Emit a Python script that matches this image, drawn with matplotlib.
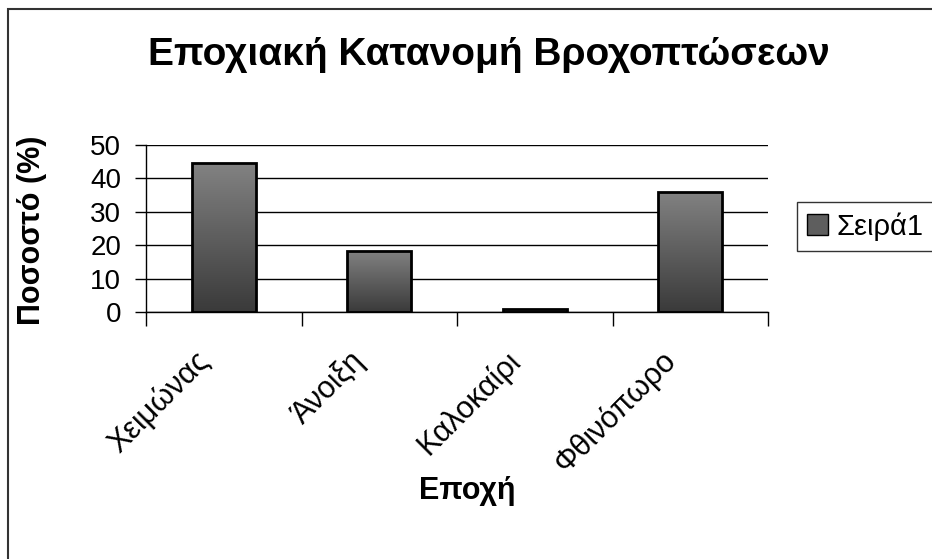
import numpy as np
import matplotlib
matplotlib.use("Agg")
import matplotlib.pyplot as plt
from matplotlib.patches import Rectangle
from matplotlib.transforms import offset_copy

plt.rcParams['font.family'] = ['Liberation Sans', 'DejaVu Sans']

# data
seasons = ['Χειμώνας', 'Άνοιξη', 'Καλοκαίρι', 'Φθινόπωρο']
values = [44.6, 18.4, 1.0, 36.0]
series_name = 'Σειρά1'
title = 'Εποχιακή Κατανομή Βροχοπτώσεων'
xlabel = 'Εποχή'
ylabel = 'Ποσοστό (%)'
yticks = [0, 10, 20, 30, 40, 50]

W, H = 932, 559
fig = plt.figure(figsize=(W / 100, H / 100), dpi=100)
ax = fig.add_axes([146 / W, 1 - 312 / H, (768 - 146) / W, (312 - 145) / H])

x = np.arange(len(seasons))
bars = ax.bar(x, values, width=0.41, facecolor='none', edgecolor='black',
              linewidth=2, zorder=3)

# vertical gradient inside each bar
grad = np.linspace(0, 1, 256).reshape(-1, 1)
cmap = matplotlib.colors.LinearSegmentedColormap.from_list('g', ['#3a3a3a', '#828282'])
for b in bars:
    x0, w, h = b.get_x(), b.get_width(), b.get_height()
    im = ax.imshow(grad, extent=[x0, x0 + w, 0, h], origin='lower', aspect='auto',
                   cmap=cmap, zorder=2, interpolation='bilinear')
    im.set_clip_path(b)

ax.set_xlim(-0.5, len(seasons) - 0.5)
ax.set_ylim(0, 50)
ax.set_yticks(yticks)
ax.tick_params(axis='y', direction='out', length=8, width=1, pad=10, labelsize=20)

# tick marks between categories, labels placed as rotated texts
ax.set_xticks(np.arange(len(seasons) + 1) - 0.5)
ax.set_xticklabels([])
ax.tick_params(axis='x', which='major', direction='out', length=10, width=1)
lab_tr = offset_copy(ax.get_xaxis_transform(), fig=fig, x=-19, y=-44, units='dots')
for xi, name in zip(x, seasons):
    ax.text(xi, 0, name, transform=lab_tr, rotation=45, ha='right', va='center',
            rotation_mode='anchor', fontsize=22)

ax.yaxis.grid(True, color='black', linewidth=1, zorder=0)
ax.set_axisbelow(True)
for s in ['top', 'right']:
    ax.spines[s].set_visible(False)
ax.spines['left'].set_linewidth(1)
ax.spines['bottom'].set_linewidth(1)

fig.text(489 / W, 1 - 65 / H, title, ha='center', va='baseline',
         fontsize=28, fontweight='bold')
fig.text(467 / W, 1 - 499 / H, xlabel, ha='center', va='baseline',
         fontsize=22, fontweight='bold')
fig.text(32 / W, 1 - 230 / H, ylabel, ha='center', va='center', rotation=90,
         fontsize=22, fontweight='bold')

leg = ax.legend([plt.Rectangle((0, 0), 1, 1, facecolor='#5e5e5e', edgecolor='black')],
                [series_name], loc='lower left',
                bbox_to_anchor=(797 / W, 1 - 251 / H), bbox_transform=fig.transFigure,
                borderaxespad=0, fancybox=False, fontsize=21, handlelength=0.7,
                handleheight=0.7, handletextpad=0.3, borderpad=0.35)
leg.get_frame().set_edgecolor('black')
leg.get_frame().set_linewidth(1)

# outer chart frame
fig.patches.append(Rectangle((7.5 / W, -0.1), 1.2, 1.1 - 8.5 / H, transform=fig.transFigure,
                             fill=False, edgecolor='#333333', linewidth=1.5))

fig.savefig('out.png', dpi=100)
